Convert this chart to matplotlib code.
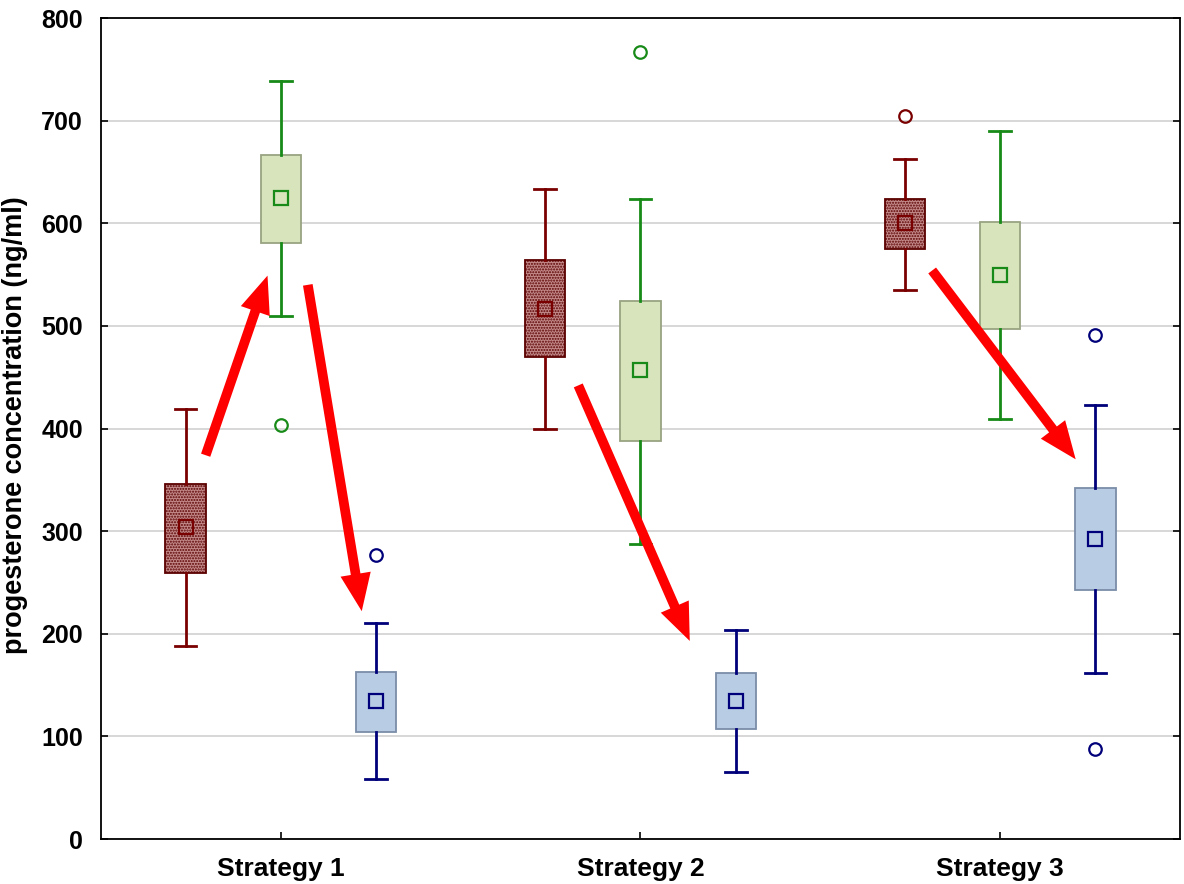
"""Progesterone concentration box plots for three strategies."""

import matplotlib.pyplot as plt
from matplotlib.patches import FancyArrowPatch

plt.rcParams['font.family'] = ['Liberation Sans', 'DejaVu Sans']

#########################################################################################
# Data (ng/ml)

strategies = ['Strategy 1', 'Strategy 2', 'Strategy 3']

# red group (first box of each strategy)
red_whislo = [188, 400, 535]
red_q1 = [259, 470, 575]
red_mean = [304, 516, 600]
red_q3 = [346, 564, 624]
red_whishi = [419, 633, 663]
red_fliers = [[], [], [705]]

# green group (second box)
green_whislo = [510, 287, 409]
green_q1 = [581, 388, 497]
green_mean = [625, 457, 550]
green_q3 = [667, 524, 601]
green_whishi = [739, 624, 690]
green_fliers = [[403], [767], []]

# blue group (third box)
blue_whislo = [58, 65, 162]
blue_q1 = [104, 107, 243]
blue_mean = [134, 134, 292]
blue_q3 = [163, 162, 342]
blue_whishi = [210, 204, 423]
blue_fliers = [[277], [], [491, 88]]

# red arrows: (x0, y0, x1, y1) in category units / ng/ml
arrows = [
    (0.791, 374, 0.963, 549),
    (1.075, 540, 1.225, 222),
    (1.827, 442, 2.137, 193),
    (2.811, 554, 3.210, 370),
]

#########################################################################################

groups = [
    dict(lo=red_whislo, q1=red_q1, mean=red_mean, q3=red_q3, hi=red_whishi,
         fl=red_fliers, offset=-0.265, line='#7a0000', edge='#5a0000',
         face='#c48a8a', hatch='......'),
    dict(lo=green_whislo, q1=green_q1, mean=green_mean, q3=green_q3, hi=green_whishi,
         fl=green_fliers, offset=0.0, line='#178a17', edge='#98a381',
         face='#d8e4bc', hatch=None),
    dict(lo=blue_whislo, q1=blue_q1, mean=blue_mean, q3=blue_q3, hi=blue_whishi,
         fl=blue_fliers, offset=0.265, line='#00007a', edge='#7a8ca8',
         face='#b8cce4', hatch=None),
]

fig = plt.figure(figsize=(11.84, 8.84), dpi=100)
ax = fig.add_axes([0.0853, 0.0509, 0.9113, 0.9287])

# Horizontal grid lines
ax.set_axisbelow(True)
ax.yaxis.grid(True, color='#d4d4d4', linewidth=1.3)

xs = [1, 2, 3]
for g in groups:
    stats = []
    for i in range(3):
        stats.append(dict(whislo=g['lo'][i], q1=g['q1'][i], med=g['mean'][i],
                          q3=g['q3'][i], whishi=g['hi'][i], mean=g['mean'][i],
                          fliers=g['fl'][i]))
    pos = [x + g['offset'] for x in xs]
    bp = ax.bxp(stats, positions=pos, widths=0.112, capwidths=0.06,
                patch_artist=True, showmeans=True, manage_ticks=False,
                boxprops=dict(facecolor=g['face'], edgecolor=g['edge'], linewidth=1.3),
                whiskerprops=dict(color=g['line'], linewidth=2.0),
                capprops=dict(color=g['line'], linewidth=2.0),
                medianprops=dict(linewidth=0),
                meanprops=dict(marker='s', markersize=10, markerfacecolor='none',
                               markeredgecolor=g['line'], markeredgewidth=1.6),
                flierprops=dict(marker='o', markersize=9, markerfacecolor='none',
                                markeredgecolor=g['line'], markeredgewidth=1.6))
    if g['hatch']:
        for b in bp['boxes']:
            b.set_hatch(g['hatch'])

# Red arrows
for x0, y0, x1, y1 in arrows:
    arr = FancyArrowPatch((x0, y0), (x1, y1),
                          arrowstyle='simple,head_length=27,head_width=22,tail_width=7',
                          mutation_scale=1, color='#ff0000', lw=0,
                          shrinkA=0, shrinkB=0, zorder=5)
    ax.add_patch(arr)

# Axes limits, ticks and labels
ax.set_xlim(0.5, 3.5)
ax.set_ylim(0, 800)
ax.set_xticks(xs)
ax.set_xticklabels(strategies, fontsize=19, fontweight='bold')
ax.set_yticks(range(0, 801, 100))
ax.tick_params(axis='y', labelsize=18, direction='in', length=5, width=1.2,
               right=True, pad=13)
ax.tick_params(axis='x', direction='in', length=5, width=1.2, pad=13)
for lab in ax.get_yticklabels():
    lab.set_fontweight('bold')
ax.set_ylabel('progesterone concentration (ng/ml)', fontsize=19.5, fontweight='bold')
ax.yaxis.set_label_coords(-0.068, 0.504)
for s in ax.spines.values():
    s.set_linewidth(1.3)

fig.savefig('out.png', dpi=100)
